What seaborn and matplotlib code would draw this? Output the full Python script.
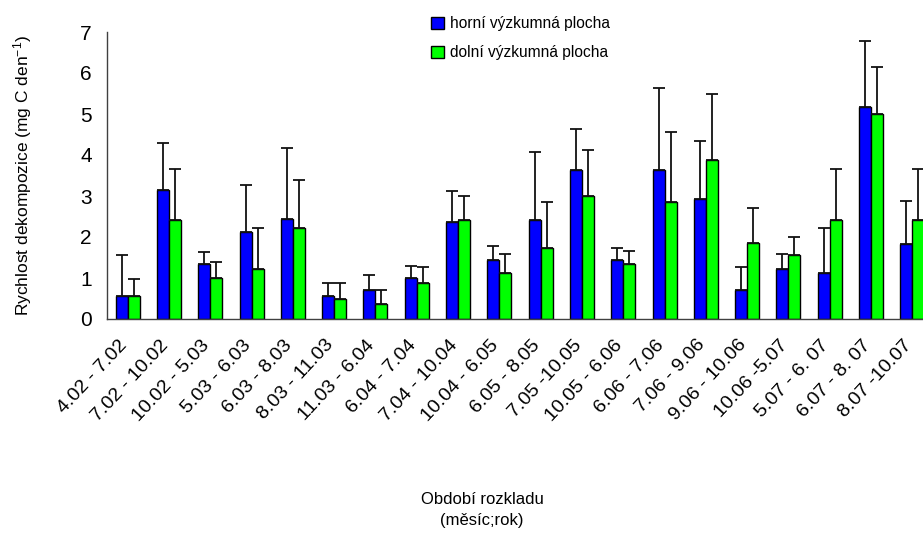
import numpy as np
import pandas as pd
import matplotlib
matplotlib.use("Agg")
import matplotlib.pyplot as plt
import seaborn as sns
from matplotlib.patches import Patch

periods = ["4.02 - 7.02", "7.02 - 10.02", "10.02 - 5.03", "5.03 - 6.03", "6.03 - 8.03",
           "8.03 - 11.03", "11.03 - 6.04", "6.04 - 7.04", "7.04 - 10.04", "10.04 - 6.05",
           "6.05 - 8.05", "7.05 -10.05", "10.05 - 6.06", "6.06 - 7.06", "7.06 - 9.06",
           "9.06 - 10.06", "10.06 -5.07", "5.07 - 6. 07", "6.07 - 8. 07", "8.07 -10.07"]

upper_mean = [0.56, 3.15, 1.33, 2.11, 2.45, 0.56, 0.70, 1.00, 2.37, 1.45,
              2.41, 3.63, 1.45, 3.63, 2.93, 0.70, 1.22, 1.11, 5.18, 1.82]
upper_sd = [0.99, 1.14, 0.30, 1.15, 1.71, 0.32, 0.37, 0.29, 0.75, 0.33,
            1.66, 1.01, 0.29, 2.01, 1.41, 0.56, 0.37, 1.11, 1.60, 1.07]
lower_mean = [0.56, 2.41, 1.00, 1.22, 2.22, 0.48, 0.37, 0.88, 2.41, 1.11,
              1.74, 3.00, 1.33, 2.85, 3.89, 1.85, 1.55, 2.41, 5.00, 2.41]
lower_sd = [0.41, 1.25, 0.40, 1.00, 1.16, 0.40, 0.33, 0.38, 0.58, 0.48,
            1.11, 1.11, 0.34, 1.71, 1.60, 0.86, 0.45, 1.26, 1.15, 1.26]

series = ["horní výzkumná plocha", "dolní výzkumná plocha"]
colors = ["#0000FF", "#00FF00"]

sns.set_theme(style="white")
plt.rcParams["font.family"] = ["Liberation Sans", "DejaVu Sans"]
plt.rcParams["mathtext.fontset"] = "custom"
plt.rcParams["mathtext.rm"] = "Liberation Sans"
plt.rcParams["mathtext.it"] = "Liberation Sans"
plt.rcParams["text.color"] = "black"
plt.rcParams["axes.labelcolor"] = "black"
plt.rcParams["xtick.color"] = "black"
plt.rcParams["ytick.color"] = "black"

df = pd.DataFrame({
    "period": periods * 2,
    "value": upper_mean + lower_mean,
    "sd": upper_sd + lower_sd,
    "series": [series[0]] * len(periods) + [series[1]] * len(periods),
})

fig = plt.figure(figsize=(9.23, 5.56), dpi=100)
ax = fig.add_axes([107 / 923, 1 - 319 / 556, 41.3 * 20 / 923, (319 - 32) / 556])

sns.barplot(data=df, x="period", y="value", hue="series", order=periods,
            hue_order=series, palette=colors, saturation=1, width=0.58, gap=0,
            edgecolor="black", linewidth=1.0, errorbar=None, legend=False, ax=ax)

sds = [upper_sd, lower_sd]
for cont, sd in zip(ax.containers, sds):
    xs = [b.get_x() + b.get_width() / 2 for b in cont]
    hs = [b.get_height() for b in cont]
    ax.errorbar(xs, hs, yerr=[np.zeros(len(sd)), sd], fmt="none",
                ecolor="#111111", elinewidth=1.3, capsize=4.5, capthick=1.3, zorder=1)

ax.set_ylim(0, 7)
ax.set_xlim(-0.5, len(periods) - 0.5)
ax.set_yticks(range(0, 8))
ax.set_yticklabels([str(i) for i in range(0, 8)], fontsize=15)

ax.set_xticks(np.arange(len(periods)))
ax.set_xticklabels(periods, rotation=47, ha="right", va="baseline", rotation_mode="anchor",
                   fontsize=14)
ax.tick_params(axis="x", which="major", length=0, pad=19)
ax.set_xticks(np.arange(-0.5, len(periods), 1.0), minor=True)
ax.tick_params(axis="x", which="minor", length=5, width=1, color="#404040", direction="out")
ax.tick_params(axis="y", length=5, width=1, color="#404040", direction="out", pad=6)

for s in ["top", "right"]:
    ax.spines[s].set_visible(False)
for s in ["left", "bottom"]:
    ax.spines[s].set_color("#404040")
    ax.spines[s].set_linewidth(1.0)

ax.set_xlabel("")
ax.set_ylabel(r"Rychlost dekompozice (mg C den$^{-1}$)", fontsize=12.5)
ax.yaxis.set_label_coords((34 - 107) / 826, 0.5)

fig.text(482 / 923, 1 - 510 / 556, "Období rozkladu\n(měsíc;rok)", ha="center", va="center",
         fontsize=12, linespacing=1.45)

handles = [Patch(facecolor=c, edgecolor="black", linewidth=1.0) for c in colors]
fig.legend(handles, series, loc="upper left", bbox_to_anchor=(425 / 923, 1 - 10 / 556),
           frameon=False, fontsize=11.2, handlelength=0.8, handleheight=0.8,
           handletextpad=0.4, labelspacing=0.9, borderaxespad=0)

fig.savefig("out.png", dpi=100)
